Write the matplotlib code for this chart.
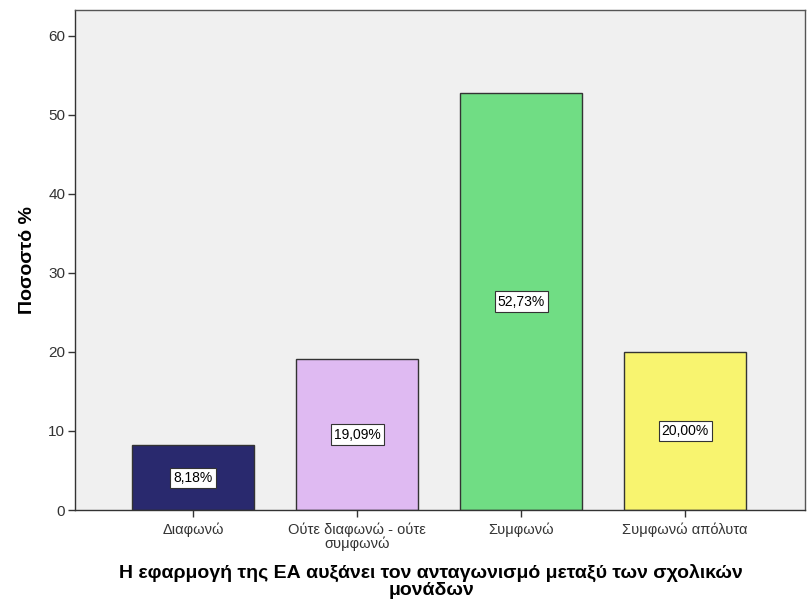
import matplotlib
matplotlib.use("Agg")
import matplotlib.pyplot as plt

categories = ["Διαφωνώ", "Ούτε διαφωνώ - ούτε\nσυμφωνώ", "Συμφωνώ", "Συμφωνώ απόλυτα"]
values = [8.18, 19.09, 52.73, 20.00]
colors = ["#29296e", "#dfbaf2", "#70dd84", "#f8f46f"]
yticks = [0, 10, 20, 30, 40, 50, 60]

plt.rcParams['font.family'] = ['Liberation Sans', 'DejaVu Sans']

fig = plt.figure(figsize=(8.07, 6.01), dpi=100)
ax = fig.add_axes([0.093, 0.1514, 0.9045, 0.8316])
ax.set_facecolor("#f0f0f0")
x = list(range(len(categories)))
bars = ax.bar(x, values, width=0.745, color=colors, edgecolor="#333333", linewidth=1.0, zorder=2)
for xi, v in zip(x, values):
    ax.text(xi, v / 2, f"{v:.2f}%".replace(".", ","), ha="center", va="center", fontsize=10,
            color="black", bbox=dict(boxstyle="square,pad=0.22", fc="white", ec="#333333", lw=0.8), zorder=3)

ax.set_xlim(-0.72, 3.73)
ax.set_ylim(0, 63.2)
ax.set_yticks(yticks)
ax.set_xticks(x)
ax.set_xticklabels(categories, fontsize=10.5, color="#222222", linespacing=0.95)
ax.tick_params(axis="y", labelsize=11, colors="#333333", length=5, width=1, pad=2)
ax.tick_params(axis="x", length=5, width=1, colors="#333333", pad=4)
for sp in ax.spines.values():
    sp.set_color("#555555")
    sp.set_linewidth(1.0)
ax.spines["left"].set_color("#333333")
ax.spines["bottom"].set_color("#333333")
ax.set_ylabel("Ποσοστό %", fontsize=14, fontweight="bold")
ax.yaxis.set_label_coords(-0.054, 0.50)
ax.set_xlabel("Η εφαρμογή της ΕΑ αυξάνει τον ανταγωνισμό μεταξύ των σχολικών\nμονάδων",
              fontsize=14, fontweight="bold", linespacing=0.95)
ax.xaxis.set_label_coords(0.5 - 0.012, -0.108)
ax.xaxis.label.set_va("top")
fig.savefig("out.png", dpi=100, facecolor="white")
